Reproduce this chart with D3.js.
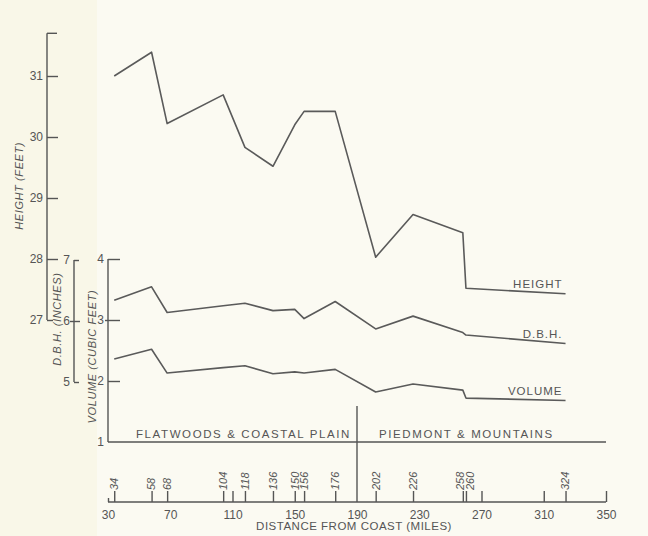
<!DOCTYPE html>
<html>
<head>
<meta charset="utf-8">
<script src="https://cdn.jsdelivr.net/npm/d3@7"></script>
<style>
  body { margin: 0; background: #fbfaf2; }
  svg text { font-family: "Liberation Sans", Arial, sans-serif; fill: #555; }
  .axis path.domain { display: none; }
  .axis line, .rule { stroke: #555; stroke-width: 1.4; }
  .series { fill: none; stroke: #5a5a5a; stroke-width: 1.6; stroke-linejoin: round; }
</style>
</head>
<body>
<div id="chart"></div>
<script>
// sampling stations, miles from coast
const stations = [34, 58, 68, 104, 118, 136, 150, 156, 176, 202, 226, 258, 260, 324];
const heightFt = [31.0, 31.39, 30.22, 30.69, 29.83, 29.52, 30.20, 30.42, 30.42, 28.03, 28.73, 28.43, 27.52, 27.43];
const dbhIn = [6.34, 6.56, 6.14, 6.25, 6.29, 6.17, 6.19, 6.04, 6.32, 5.87, 6.08, 5.81, 5.77, 5.63];
const volumeCuFt = [2.36, 2.52, 2.13, 2.22, 2.25, 2.12, 2.15, 2.13, 2.19, 1.82, 1.95, 1.85, 1.72, 1.68];

const distanceLabels = [30, 70, 110, 150, 190, 230, 270, 310, 350];
const distanceMarks = [30, 110, 270, 310, 350];
const heightTicks = [27, 28, 29, 30, 31];
const dbhTicks = [5, 6, 7];
const volumeTicks = [1, 2, 3, 4];
const regionNames = ['FLATWOODS & COASTAL PLAIN', 'PIEDMONT & MOUNTAINS'];
const regionBounds = [[30, 190], [190, 350]];
const seriesNames = ['HEIGHT', 'D.B.H.', 'VOLUME'];

const width = 648, height = 536;

const svg = d3.select('#chart').append('svg')
  .attr('width', width)
  .attr('height', height)
  .attr('viewBox', `0 0 ${width} ${height}`);

svg.append('rect').attr('width', width).attr('height', height).attr('fill', '#fbfaf2');
svg.append('rect').attr('width', 97).attr('height', height).attr('fill', '#f9f7e8');

// scales
const x = d3.scaleLinear().domain([30, 350]).range([108, 606]);
const yH = d3.scaleLinear().domain([27, 31]).range([320, 76]);
const yD = d3.scaleLinear().domain([5, 7]).range([382, 260]);
const yV = d3.scaleLinear().domain([1, 4]).range([442, 259]);

// height axis
const hAxis = svg.append('g').attr('class', 'axis').attr('transform', 'translate(47,0)')
  .call(d3.axisLeft(yH).tickValues(heightTicks).tickSize(-11).tickPadding(4).tickFormat(d3.format('d')));
hAxis.append('line').attr('y1', yH(31.7)).attr('y2', yH(27));
hAxis.append('line').attr('x1', 0).attr('x2', 10).attr('y1', yH(31.7)).attr('y2', yH(31.7));
hAxis.selectAll('.tick').filter(d => d === 27).select('line').attr('x2', 6);

// dbh axis
const dAxis = svg.append('g').attr('class', 'axis').attr('transform', 'translate(74,0)')
  .call(d3.axisLeft(yD).tickValues(dbhTicks).tickSize(-5).tickPadding(4).tickFormat(d3.format('d')));
dAxis.append('line').attr('y1', yD(7)).attr('y2', yD(5));
dAxis.selectAll('.tick').filter(d => d === 6).select('line').attr('x1', -4).attr('x2', 6);

// volume axis
const vAxis = svg.append('g').attr('class', 'axis').attr('transform', 'translate(108,0)')
  .call(d3.axisLeft(yV).tickValues(volumeTicks).tickSize(-12).tickPadding(4).tickFormat(d3.format('d')));
vAxis.append('line').attr('y1', yV(4)).attr('y2', yV(1));
vAxis.selectAll('.tick').filter(d => d === 3).select('line').attr('x1', -3);
vAxis.selectAll('.tick').filter(d => d === 1).select('line').remove();

[hAxis, dAxis, vAxis].forEach(a => a.selectAll('.tick text').style('font-size', '12px').attr('fill', '#555'));

// axis titles
const titles = [
  { text: 'HEIGHT (FEET)', x: 19, y: yH(29.2) },
  { text: 'D.B.H. (INCHES)', x: 57, y: yD(6.03) },
  { text: 'VOLUME (CUBIC FEET)', x: 92, y: yV(2.4) }
];
svg.selectAll('.ytitle').data(titles).enter().append('text')
  .attr('class', 'ytitle')
  .attr('transform', d => `translate(${d.x},${d.y}) rotate(-90)`)
  .attr('text-anchor', 'middle')
  .attr('dy', '0.35em')
  .style('font-size', '11px')
  .style('font-style', 'italic')
  .style('letter-spacing', '0.6px')
  .text(d => d.text);

// baseline and region divider
svg.append('line').attr('class', 'rule')
  .attr('x1', x(30)).attr('x2', x(350)).attr('y1', yV(1)).attr('y2', yV(1));
svg.append('line').attr('class', 'rule')
  .attr('x1', x(190)).attr('x2', x(190)).attr('y1', 406).attr('y2', 502);

svg.selectAll('.region').data(regionNames).enter().append('text')
  .attr('class', 'region')
  .attr('x', (d, i) => x(regionBounds[i][0]) + (i === 0 ? 28 : 22))
  .attr('y', yV(1) - 4)
  .style('font-size', '11.5px')
  .style('letter-spacing', '1.6px')
  .text(d => d);

// distance axis
const xAxisG = svg.append('g').attr('class', 'axis').attr('transform', 'translate(0,502)');
xAxisG.call(d3.axisBottom(x).tickValues(distanceLabels).tickSize(0).tickPadding(8).tickFormat(d3.format('d')));
xAxisG.selectAll('.tick text').style('font-size', '12px').attr('fill', '#555');
xAxisG.append('line').attr('x1', x(30)).attr('x2', x(350));

const xMarks = svg.append('g').attr('class', 'axis').attr('transform', 'translate(0,502)')
  .call(d3.axisTop(x).tickValues(distanceMarks.concat(stations)).tickSize(11).tickFormat(''));
xMarks.selectAll('.tick').filter(d => d === 30).select('line').attr('y2', -4);

const nudge = { 258: -3, 260: 4 };
svg.selectAll('.station').data(stations).enter().append('text')
  .attr('class', 'station')
  .attr('transform', d => `translate(${x(d) + (nudge[d] || 0)},490) rotate(-90)`)
  .attr('dy', '0.35em')
  .style('font-size', '11px')
  .style('font-style', 'italic')
  .text(d => d);

svg.append('text')
  .attr('x', 354)
  .attr('y', 530)
  .attr('text-anchor', 'middle')
  .style('font-size', '11.5px')
  .style('letter-spacing', '0.5px')
  .text('DISTANCE FROM COAST (MILES)');

// data lines
const series = [
  { values: heightFt, y: yH },
  { values: dbhIn, y: yD },
  { values: volumeCuFt, y: yV }
];

series.forEach((s, i) => {
  const line = d3.line()
    .x((d, j) => x(stations[j]))
    .y(d => s.y(d));

  svg.append('path')
    .attr('class', 'series')
    .attr('d', line(s.values));

  const last = s.values.length - 1;
  svg.append('text')
    .attr('x', x(stations[last]) - 3)
    .attr('y', s.y(s.values[last]) - 6)
    .attr('text-anchor', 'end')
    .style('font-size', '11.5px')
    .style('letter-spacing', '1px')
    .text(seriesNames[i]);
});
</script>
</body>
</html>
